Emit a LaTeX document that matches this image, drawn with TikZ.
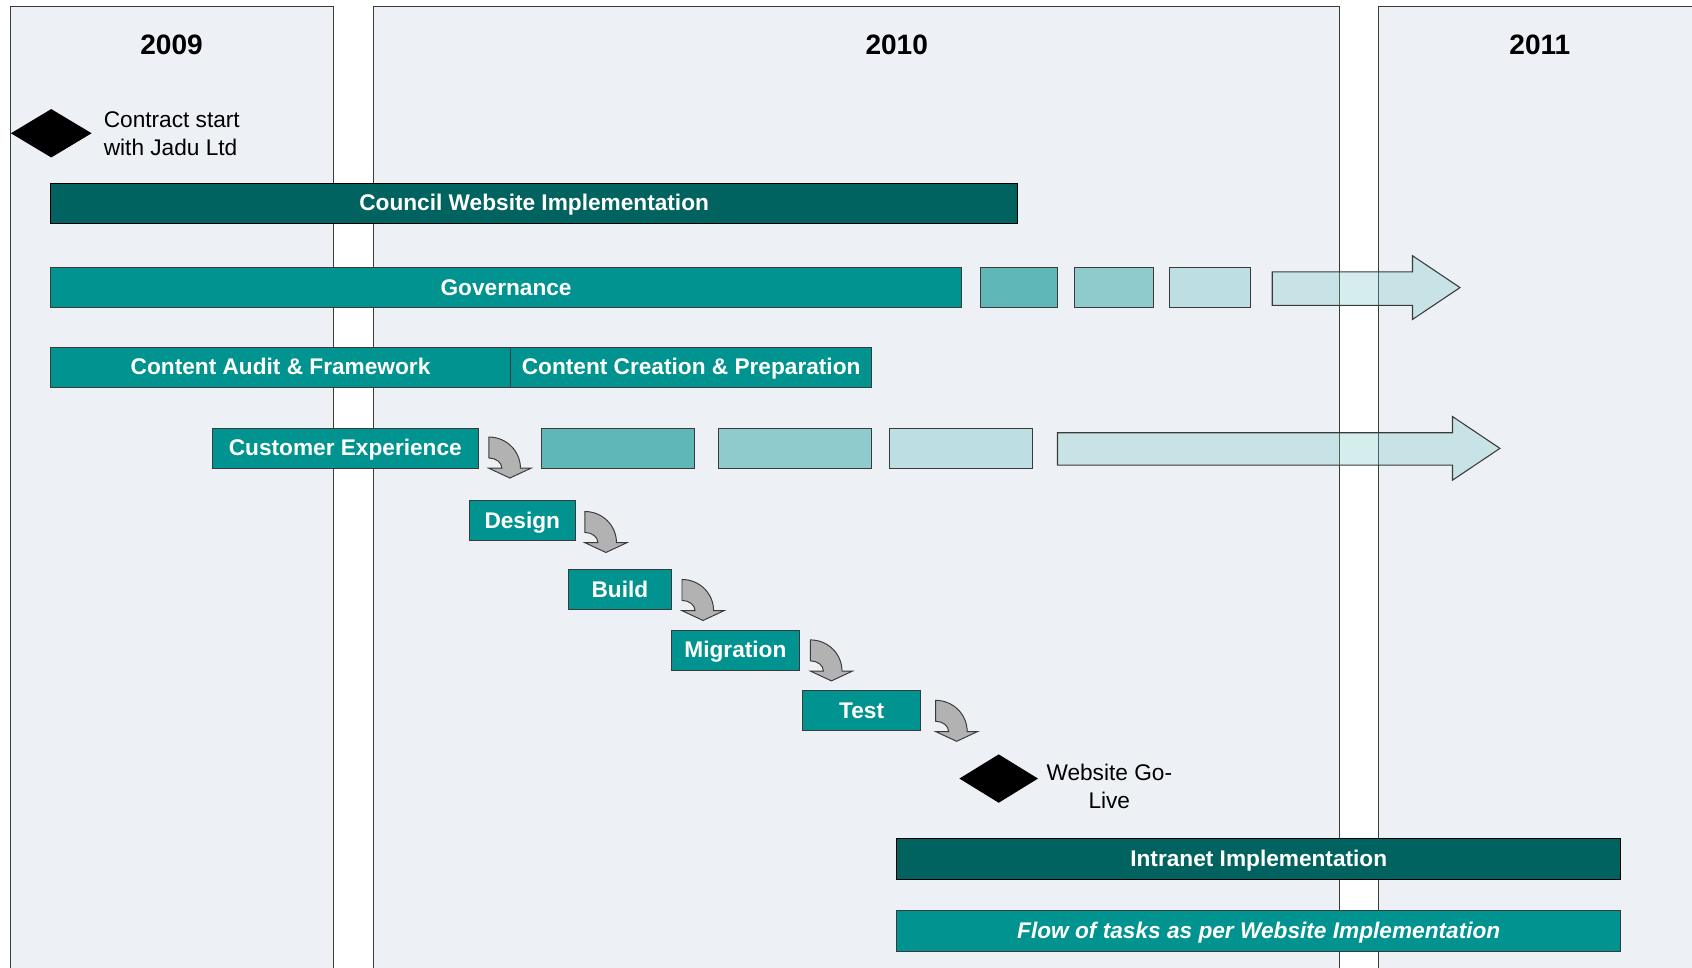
\documentclass[tikz,border=0pt]{standalone}
\usepackage{fontspec}
\setmainfont{Liberation Sans}
\usetikzlibrary{shapes.geometric}
\definecolor{panelbg}{HTML}{EDF0F5}
\definecolor{darkteal}{HTML}{00635F}
\definecolor{tealmain}{HTML}{00938F}
\definecolor{fadeA}{HTML}{5FB8B7}
\definecolor{fadeB}{HTML}{8FCBCD}
\definecolor{fadeC}{HTML}{BDDEE2}
\definecolor{fadearrow}{RGB}{117,197,198}
\definecolor{bendgray}{HTML}{B2B2B2}
\definecolor{edgegray}{HTML}{3A3A3A}
\begin{document}
\begin{tikzpicture}[x=1pt,y=-1pt,
  panelfill/.style={fill=panelbg},
  panel/.style={draw=edgegray, line width=0.9pt},
  year/.style={font=\fontsize{26}{30}\selectfont\bfseries},
  bar/.style={draw=edgegray, line width=1pt, inner sep=0pt, minimum height=37pt,
    text height=15pt, text depth=1pt,
    text=white, font=\fontsize{21}{25}\selectfont\bfseries},
  darkbar/.style={bar, fill=darkteal, draw=black},
  tealbar/.style={bar, fill=tealmain},
  fadebox/.style={draw=edgegray, line width=1pt, inner sep=0pt, minimum height=37pt},
  bigarrow/.style={fill=fadearrow, fill opacity=0.3, draw=edgegray, line width=1pt},
  milestone/.style={diamond, fill=black, inner sep=0pt, minimum width=75pt, minimum height=45pt},
  note/.style={font=\fontsize{21}{26}\selectfont, inner sep=0pt},
  bendarrow/.style={fill=bendgray, draw=edgegray, line width=0.9pt, line join=miter},
  bend/.pic={\path[bendarrow] (0,0) .. controls (16.2,0) and (29.3,12.9) .. (29.3,28.9)
     -- (39,28.9) -- (19.5,38) -- (0,28.9) -- (12.1,28.9)
     .. controls (12.1,23.7) and (6.7,19.4) .. (0,19.4) -- cycle;}
]
\clip (0,0) rectangle (1568,897);
\fill[white] (0,0) rectangle (1568,897);
% year panels
\fill[panelfill] (10,6) rectangle (309,910);
\fill[panelfill] (346,6) rectangle (1241,910);
\fill[panelfill] (1277,6) rectangle (1590,910);
\draw[panel] (10,910) -- (10,6) -- (309,6) -- (309,910);
\draw[panel] (346,910) -- (346,6) -- (1241,6) -- (1241,910);
\draw[panel] (1277,910) -- (1277,6) -- (1590,6);
\node[year] (y2009) at (159,42) {2009};
\node[year] (y2010) at (831,42) {2010};
\node[year] (y2011) at (1427,42) {2011};
% contract start
\node[milestone] (ms1) at (47.5,123.5) {};
\node[note, anchor=west, align=left] (ms1t) at (96,124) {Contract start\\with Jadu Ltd};
% council website
\node[darkbar, minimum width=896pt] (council) at (495,188.5) {Council Website Implementation};
% governance
\node[tealbar, minimum width=844pt] (gov) at (469,266.5) {Governance};
\node[fadebox, fill=fadeA, minimum width=71pt] (g1) at (944.5,266.5) {};
\node[fadebox, fill=fadeB, minimum width=73pt] (g2) at (1032.5,266.5) {};
\node[fadebox, fill=fadeC, minimum width=75pt] (g3) at (1121.5,266.5) {};
\path[bigarrow] (1179,252) -- (1309,252) -- (1309,237) -- (1353,266.5) -- (1309,296) -- (1309,283) -- (1179,283) -- cycle;
% content
\node[tealbar, minimum width=426pt] (audit) at (260,340.5) {Content Audit \& Framework};
\node[tealbar, minimum width=335pt] (create) at (640.5,340.5) {Content Creation \& Preparation};
% customer experience
\node[tealbar, minimum width=246pt] (cx) at (320,415.5) {Customer Experience};
\node[fadebox, fill=fadeA, minimum width=142pt] (c1) at (573,415.5) {};
\node[fadebox, fill=fadeB, minimum width=142pt] (c2) at (737,415.5) {};
\node[fadebox, fill=fadeC, minimum width=133pt] (c3) at (890.5,415.5) {};
\path[bigarrow] (980,401) -- (1346,401) -- (1346,386) -- (1390,415.5) -- (1346,445) -- (1346,431) -- (980,431) -- cycle;
% steps
\node[tealbar, minimum width=98pt] (design) at (484,482.5) {Design};
\node[tealbar, minimum width=95pt] (build) at (574.5,546.5) {Build};
\node[tealbar, minimum width=119pt] (migr) at (681.5,602.5) {Migration};
\node[tealbar, minimum width=109pt] (test) at (798.5,658.5) {Test};
\pic at (453,405) {bend};
\pic at (542,474) {bend};
\pic at (632,537) {bend};
\pic at (751,593) {bend};
\pic at (867,649) {bend};
% go-live
\node[milestone, minimum width=73pt] (ms2) at (925.5,721.5) {};
\node[note, align=center] (ms2t) at (1028,728.5) {Website Go-\\Live};
% intranet
\node[darkbar, minimum width=671pt, minimum height=38pt] (intranet) at (1166.5,796) {Intranet Implementation};
\node[tealbar, minimum width=671pt, minimum height=38pt] (flow) at (1166.5,863) {\itshape Flow of tasks as per Website Implementation};
\end{tikzpicture}
\end{document}
